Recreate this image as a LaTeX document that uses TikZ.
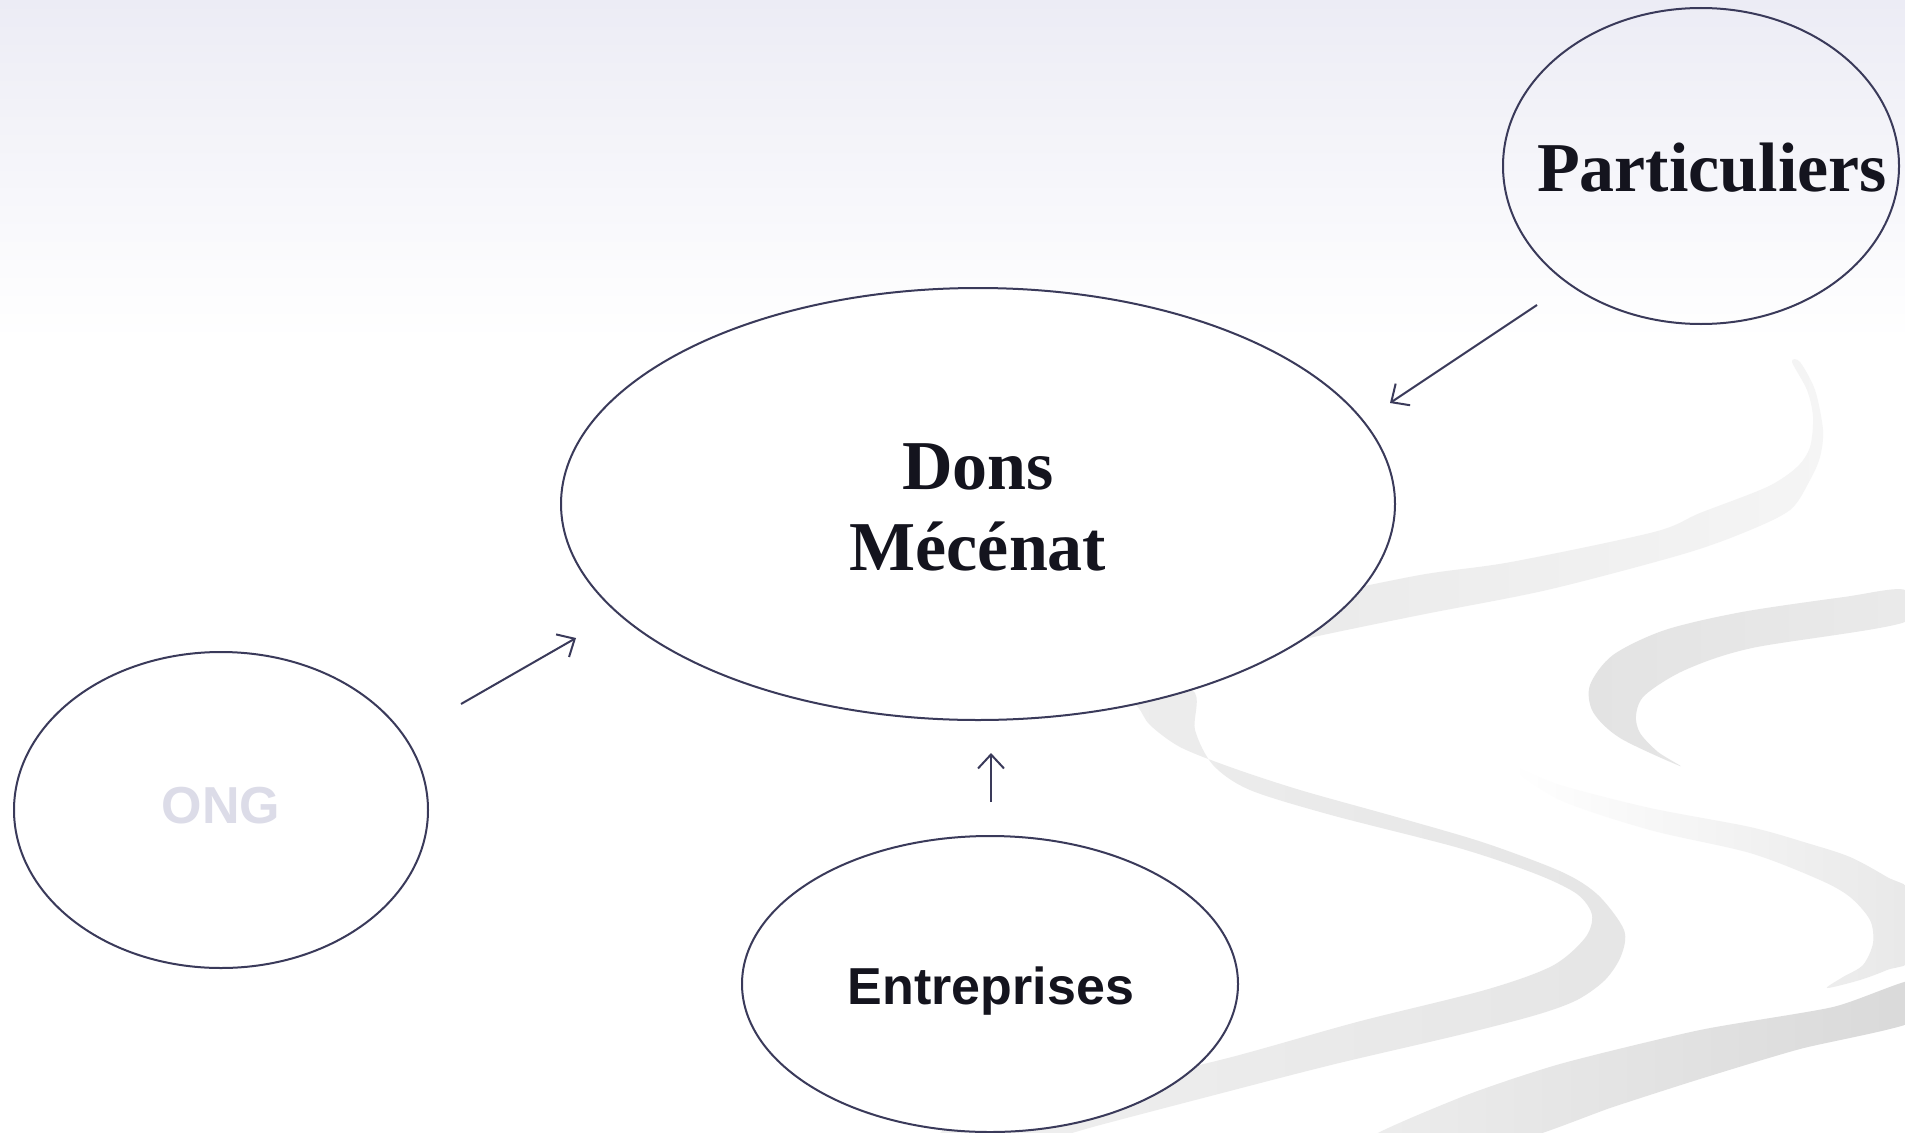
\documentclass[tikz,border=0pt]{standalone}
\usepackage{fontspec}
\setmainfont{Liberation Serif}
\newfontfamily\sansfam{Liberation Sans}
\usetikzlibrary{shapes.geometric,arrows.meta}
\definecolor{edge}{RGB}{58,58,90}
\definecolor{ink}{RGB}{20,20,30}
\definecolor{ongc}{RGB}{220,220,232}
\definecolor{topbg}{RGB}{236,236,245}
\tikzset{
  bubble/.style={ellipse,draw=edge,line width=2pt,inner sep=0pt},
  serifbig/.style={font=\fontsize{70}{81}\selectfont\bfseries,text=ink,align=center},
  sansbig/.style={font=\sansfam\fontsize{52}{60}\selectfont\bfseries},
  flow/.style={draw=edge,line width=2pt,-{Straight Barb[length=14pt,width=26pt,line width=2pt]}},
  swoosh/.style={draw=none}
}
\begin{document}
\begin{tikzpicture}[x=1pt,y=-1pt]
\useasboundingbox (0,0) rectangle (1905,1132);
% background
\fill[white] (0,0) rectangle (1905,1132);
\shade[top color=topbg,bottom color=white] (0,0) rectangle (1905,340);
% swooshes
\shade[swoosh,left color=black!9,right color=black!4] plot[smooth cycle,tension=0.5] coordinates {
 (1792,362) (1807,390) (1813,417) (1810,447) (1797,467) (1767,487) (1700,513) (1654,532) (1511,562) (1420,575) (1300,600) (1200,625)
 (1200,665) (1300,640) (1420,615) (1547,590) (1680,555) (1743,533) (1790,510) (1810,480) (1820,457) (1823,430) (1815,390) (1800,362)};
\shade[swoosh,left color=black!6,right color=black!10] plot[smooth cycle,tension=0.5] coordinates {
 (1120,690) (1138,707) (1150,725) (1180,747) (1230,767) (1300,790) (1400,818) (1485,843) (1562,872) (1598,895) (1624,930) (1621,956) (1605,980) (1577,1000) (1536,1015) (1459,1035) (1331,1065) (1203,1098) (1100,1125) (950,1165)
 (950,1125) (1100,1088) (1228,1058) (1357,1022) (1485,990) (1552,966) (1585,938) (1592,915) (1577,894) (1536,874) (1459,848) (1331,815) (1250,790) (1213,765) (1195,730) (1192,690)};
\shade[swoosh,left color=black!11,right color=black!8] plot[smooth cycle,tension=0.5] coordinates {
 (1905,590) (1844,597) (1742,612) (1665,630) (1613,655) (1590,685) (1593,712) (1620,738) (1680,766)
 (1658,752) (1640,733) (1636,715) (1645,695) (1685,670) (1752,648) (1905,622)};
\shade[swoosh,left color=white,right color=black!9] plot[smooth cycle,tension=0.5] coordinates {
 (1511,766) (1560,785) (1650,808) (1750,827) (1807,843) (1850,857) (1887,877) (1915,895)
 (1915,957) (1887,970) (1860,980) (1827,988)
 (1843,977) (1863,965) (1873,943) (1870,920) (1850,897) (1820,880) (1750,853) (1650,830) (1560,800)};
\shade[swoosh,left color=black!7,right color=black!15] plot[smooth cycle,tension=0.4] coordinates {
 (1915,980) (1833,1007) (1700,1030) (1560,1064) (1459,1098) (1360,1145)
 (1500,1145) (1613,1107) (1700,1079) (1800,1049) (1915,1021)};
% nodes
\node[bubble,minimum width=396pt,minimum height=316pt] (part) at (1701,166) {};
\node[serifbig,anchor=center] (partt) at (1712,168) {Particuliers};
\node[bubble,fill=white,minimum width=834pt,minimum height=432pt] (dons) at (978,504) {};
\node[serifbig,anchor=center] (donst) at (978,507) {Dons\\Mécénat};
\node[bubble,fill=white,minimum width=414pt,minimum height=316pt] (ong) at (221,810) {};
\node[sansbig,text=ongc] (ongt) at (221,806) {ONG};
\node[bubble,fill=white,minimum width=496pt,minimum height=296pt] (entr) at (990,984) {};
\node[sansbig,text=ink] (entrt) at (991,991) {Entreprises};
% connectors
\coordinate (p1) at (1537,305);
\coordinate (p2) at (1390,403);
\coordinate (o1) at (461,704);
\coordinate (o2) at (576,638);
\coordinate (e1) at (991,802);
\coordinate (e2) at (991,753);
\draw[flow] (p1) -- (p2);
\draw[flow] (o1) -- (o2);
\draw[flow] (e1) -- (e2);
\end{tikzpicture}
\end{document}
